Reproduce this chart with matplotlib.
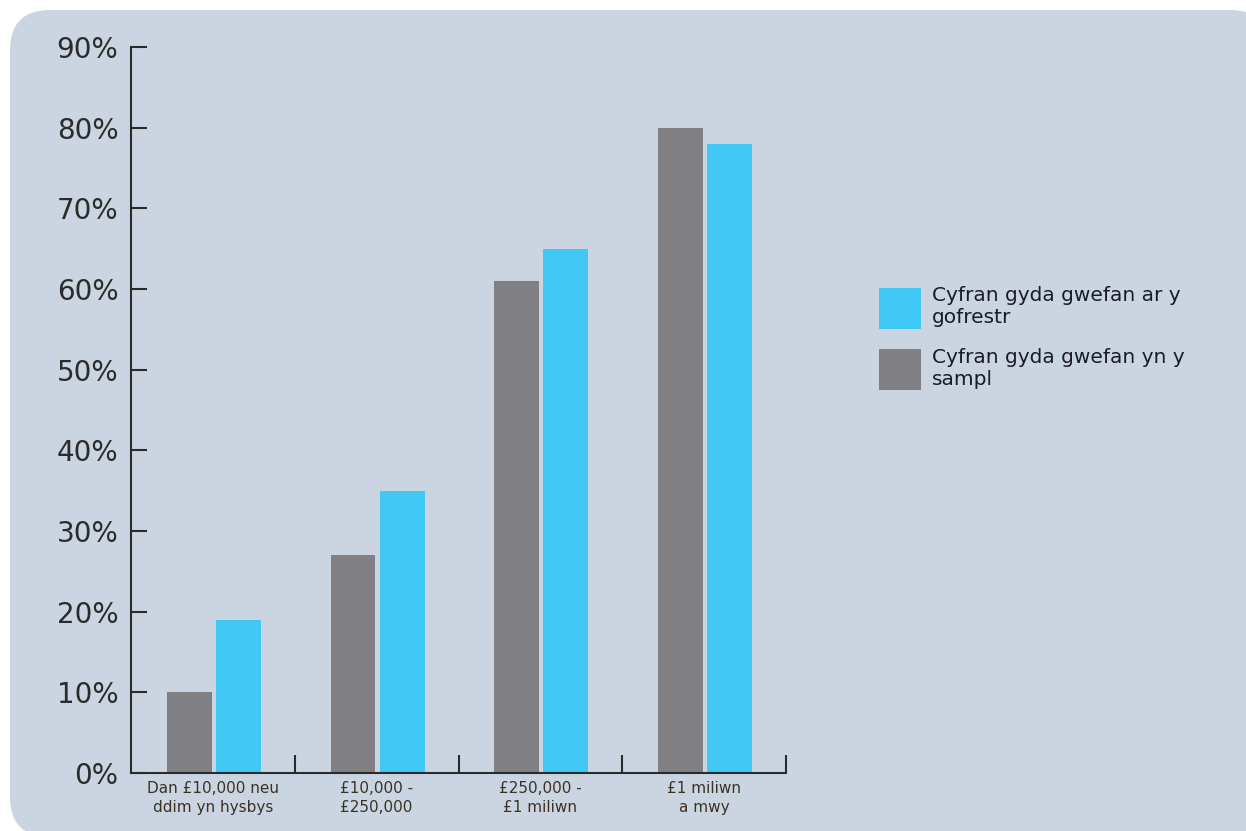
import matplotlib.pyplot as plt
from matplotlib.patches import FancyBboxPatch, Patch
import numpy as np

categories = ['Dan £10,000 neu\nddim yn hysbys', '£10,000 -\n£250,000', '£250,000 -\n£1 miliwn', '£1 miliwn\na mwy']
sample_vals = [10, 27, 61, 80]      # Cyfran gyda gwefan yn y sampl (gray)
register_vals = [19, 35, 65, 78]    # Cyfran gyda gwefan ar y gofrestr (cyan)
yticks = [0, 10, 20, 30, 40, 50, 60, 70, 80, 90]

gray = '#808084'
cyan = '#42c8f4'
bg = '#cbd5e1'

fig = plt.figure(figsize=(12.46, 8.31), dpi=100, facecolor='white')

# rounded background panel (pixel coords)
panel = FancyBboxPatch((10, -6), 1260, 821 + 6, boxstyle='round,pad=0,rounding_size=40',
                       transform=None, facecolor=bg, edgecolor='none', zorder=-5)
fig.patches.append(panel)

ax = fig.add_axes([131 / 1246, 1 - 773 / 831, (786 - 131) / 1246, (773 - 47) / 831])
ax.set_facecolor('none')

x = np.arange(len(categories))
w = 0.274
ax.bar(x - 0.144, sample_vals, w, color=gray, zorder=2)
ax.bar(x + 0.156, register_vals, w, color=cyan, zorder=2)

ax.set_xlim(-0.5, len(categories) - 0.5)
ax.set_ylim(0, 90)

for s in ['top', 'right']:
    ax.spines[s].set_visible(False)
for s in ['left', 'bottom']:
    ax.spines[s].set_color('#2b2b2b')
    ax.spines[s].set_linewidth(1.5)

ax.set_yticks(yticks)
ax.set_yticklabels([f'{v}%' for v in yticks], fontsize=20, color='#2b2b2b')
ax.tick_params(axis='y', direction='in', length=11.5, width=1.5, color='#2b2b2b', pad=9)

ax.set_xticks(np.arange(len(categories)) + 0.5)
ax.set_xticklabels([])
ax.tick_params(axis='x', which='major', direction='in', length=13, width=1.5, color='#2b2b2b')
ax.set_xticks(x, minor=True)
ax.set_xticklabels(categories, minor=True, fontsize=11, color='#3a3224', linespacing=1.3)
ax.tick_params(axis='x', which='minor', length=0, pad=6)

handles = [Patch(facecolor=cyan), Patch(facecolor=gray)]
labels = ['Cyfran gyda gwefan ar y\ngofrestr', 'Cyfran gyda gwefan yn y\nsampl']
fig.legend(handles, labels, loc='upper left', bbox_to_anchor=(869 / 1246, 1 - 276 / 831),
           frameon=False, fontsize=14.5, handlelength=2.09, handleheight=2.75,
           handletextpad=0.55, labelspacing=0.95, borderpad=0, labelcolor='#1a1a2a')

fig.savefig('out.png', dpi=100, facecolor='white')
